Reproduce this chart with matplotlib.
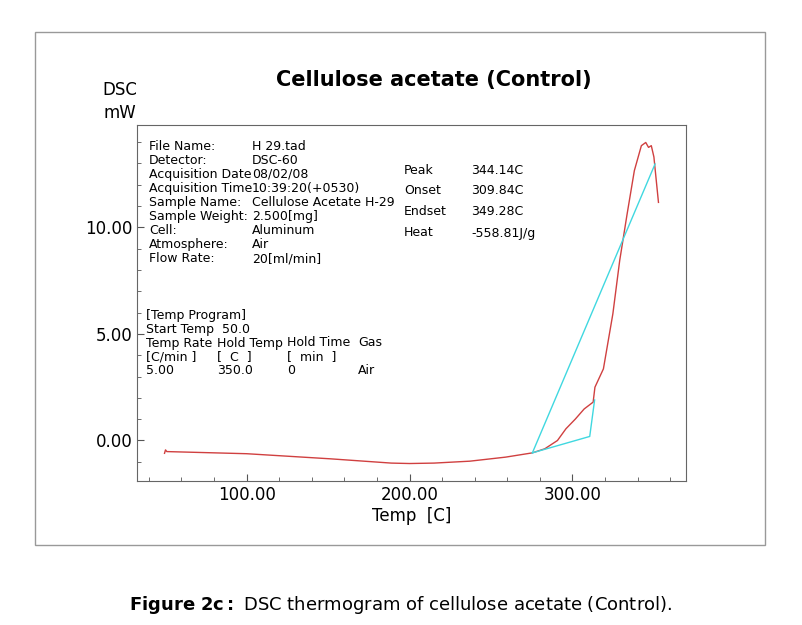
import matplotlib
matplotlib.use("Agg")
import matplotlib.pyplot as plt
from matplotlib.patches import Rectangle

temp = [49.6, 50.2, 51.0, 100, 151.5, 188.8, 200, 215, 237, 259, 275.4, 283, 290.8, 296,
        301.7, 307.2, 312.7, 313.8, 319, 324.8, 329, 333.5, 338, 342.3, 345, 346.7, 348.4, 350, 352.8]
dsc = [-0.6, -0.44, -0.52, -0.62, -0.86, -1.06, -1.08, -1.06, -0.97, -0.78, -0.58, -0.39, 0.0, 0.55,
       1.0, 1.48, 1.8, 2.5, 3.36, 5.94, 8.44, 10.6, 12.66, 13.83, 13.98, 13.75, 13.83, 13.3, 11.17]
tang1_x = [275.4, 350.7]
tang1_y = [-0.58, 12.97]
tang2_x = [275.4, 310.6, 313.6]
tang2_y = [-0.58, 0.19, 1.9]

W, H = 802, 625
fig = plt.figure(figsize=(W/100, H/100), dpi=100)
fig.patches.append(Rectangle((35/W, 1-545/H), 730/W, 513/H, transform=fig.transFigure,
                             fill=False, edgecolor="#999999", lw=1))
ax = fig.add_axes([137/W, 1-481/H, 549/W, 356/H])
ax.plot(temp, dsc, color="#d04040", lw=1)
ax.plot(tang1_x, tang1_y, color="#40d8e0", lw=1)
ax.plot(tang2_x, tang2_y, color="#40d8e0", lw=1)
ax.set_xlim(32.7, 369.7)
ax.set_ylim(-1.9, 14.8)
ax.set_xticks([100, 200, 300])
ax.set_xticklabels(["100.00", "200.00", "300.00"])
ax.set_xticks(range(40, 370, 20), minor=True)
ax.set_yticks([0, 5, 10])
ax.set_yticklabels(["0.00", "5.00", "10.00"])
ax.set_yticks(range(-1, 15), minor=True)
ax.tick_params(direction="in", labelsize=12, length=5, color="#555555")
ax.tick_params(which="minor", direction="in", length=3, color="#555555")
for s in ax.spines.values():
    s.set_color("#666666")
ax.set_xlabel("Temp  [C]", fontsize=12, labelpad=2)

fig.text(120/W, 1-90/H, "DSC", fontsize=12, ha="center", va="center")
fig.text(120/W, 1-113/H, "mW", fontsize=12, ha="center", va="center")
fig.text(434/W, 1-80/H, "Cellulose acetate (Control)", fontsize=15, fontweight="bold",
         ha="center", va="center")

lab = ["File Name:", "Detector:", "Acquisition Date", "Acquisition Time", "Sample Name:",
       "Sample Weight:", "Cell:", "Atmosphere:", "Flow Rate:"]
val = ["H 29.tad", "DSC-60", "08/02/08", "10:39:20(+0530)", "Cellulose Acetate H-29",
       "2.500[mg]", "Aluminum", "Air", "20[ml/min]"]
for i, (a, b) in enumerate(zip(lab, val)):
    y = 1 - (146 + i*14.1)/H
    fig.text(149/W, y, a, fontsize=9, va="center")
    fig.text(252/W, y, b, fontsize=9, va="center")
res_l = ["Peak", "Onset", "Endset", "Heat"]
res_v = ["344.14C", "309.84C", "349.28C", "-558.81J/g"]
for i, (a, b) in enumerate(zip(res_l, res_v)):
    y = 1 - (170 + i*21)/H
    fig.text(404/W, y, a, fontsize=9, va="center")
    fig.text(471/W, y, b, fontsize=9, va="center")
prog = [("[Temp Program]", "", "", ""), ("Start Temp  50.0", "", "", ""),
        ("Temp Rate", "Hold Temp", "Hold Time", "Gas"),
        ("[C/min ]", "[  C  ]", "[  min  ]", ""), ("5.00", "350.0", "0", "Air")]
xs = [146, 217, 287, 358]
for i, row in enumerate(prog):
    y = 1 - (315 + i*14)/H
    for xx, t in zip(xs, row):
        if t:
            fig.text(xx/W, y, t, fontsize=9, va="center")

fig.text(W/2/W, 1-605/H, r"$\bf{Figure\ 2c:}$ DSC thermogram of cellulose acetate (Control).",
         fontsize=13, ha="center", va="center")
fig.savefig("out.png", dpi=100)
